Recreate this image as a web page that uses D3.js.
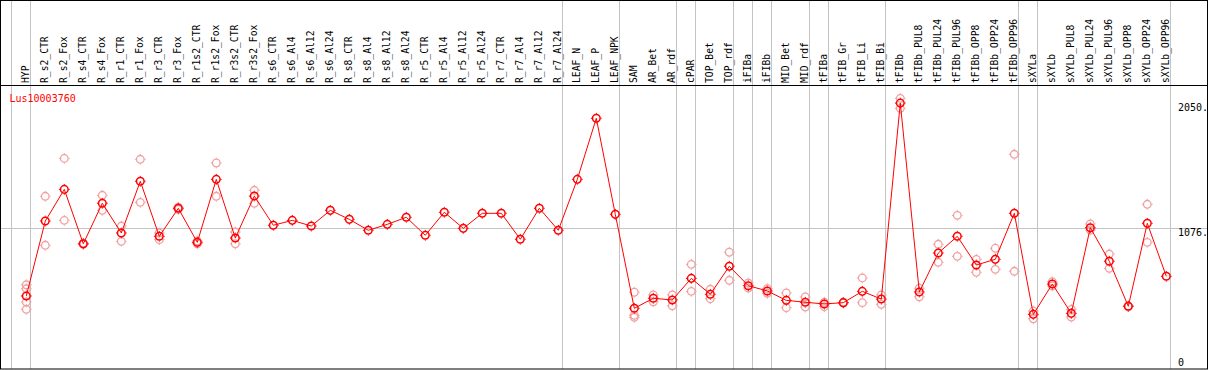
<!DOCTYPE html>
<html><head><meta charset="utf-8">
<script src="https://cdn.jsdelivr.net/npm/d3@7"></script>
<style>
html,body{margin:0;padding:0;background:#fff;}
svg{display:block;}
text{font-family:"DejaVu Sans Mono","Liberation Mono",monospace;font-size:10px;}
.cat{font-size:9.7px;}
</style></head>
<body>
<script>
const categories = ["HYP","R_s2_CTR","R_s2_Fox","R_s4_CTR","R_s4_Fox","R_r1_CTR","R_r1_Fox","R_r3_CTR","R_r3_Fox","R_r1s2_CTR","R_r1s2_Fox","R_r3s2_CTR","R_r3s2_Fox","R_s6_CTR","R_s6_Al4","R_s6_Al12","R_s6_Al24","R_s8_CTR","R_s8_Al4","R_s8_Al12","R_s8_Al24","R_r5_CTR","R_r5_Al4","R_r5_Al12","R_r5_Al24","R_r7_CTR","R_r7_Al4","R_r7_Al12","R_r7_Al24","LEAF_N","LEAF_P","LEAF_NPK","SAM","AR_Bet","AR_rdf","cPAR","TOP_Bet","TOP_rdf","iFIBa","iFIBb","MID_Bet","MID_rdf","tFIBa","tFIB_Gr","tFIB_Li","tFIB_Bi","tFIBb","tFIBb_PUL8","tFIBb_PUL24","tFIBb_PUL96","tFIBb_OPP8","tFIBb_OPP24","tFIBb_OPP96","sXYLa","sXYLb","sXYLb_PUL8","sXYLb_PUL24","sXYLb_PUL96","sXYLb_OPP8","sXYLb_OPP24","sXYLb_OPP96"];

const means = [550,1133,1379,956,1271,1040,1442,1014,1232,967,1457,1001,1327,1100,1138,1094,1216,1146,1061,1107,1162,1022,1201,1076,1193,1193,991,1232,1061,1457,1932,1185,454,532,519,687,563,781,630,589,516,501,488,498,586,526,2050,581,884,1014,791,835,1193,407,643,415,1081,820,470,1115,703];

const replicates = [
 [637,606,503,446],[1325,944],[1620,1138],[960,952],[1333,1216],[1094,975],[1613,1278],[988,1040],[1240,1224],[956,978],[1584,1325],[1047,956],[1372,1271],
 [],[],[],[],[],[],[],[],[],[],[],[],[],[],[],[],[],[],[],
 [579,400,384],[558,505],[558,474],[796,586],[602,529],[890,672],[651,612],[571,607],[573,459],[542,464],[501,467],[501,495],[690,498],[558,485],
 [2087,2009],[610,544],[952,812],[1177,858],[835,734],[921,757],[1652,742],[433,373],[661,628],[446,386],[1110,1063],[876,765],[472,468],[1263,967],[]
];

const groupEnds = [-1,0,28,31,34,35,37,38,39,41,42,45,52,53,60];
const yTicks = [0,1076,2050];
const yTickLabels = ["0","1076.","2050."];
const geneName = "Lus10003760";

const W = 1209, H = 370;
const svg = d3.select("body").append("svg").attr("width",W).attr("height",H);

const x = d3.scaleLinear().domain([0, categories.length-1]).range([26.3, 26.3 + 19*(categories.length-1)]);
const y = d3.scaleLinear().domain([0, 2050]).range([366.7, 103.1]);

const plotTop = 85, plotBottom = 369, left = 0.5, right = 1207.5;

svg.append("g").selectAll("line").data(groupEnds).join("line")
  .attr("x1", d => Math.round(x(d) + 4) + 0.5).attr("x2", d => Math.round(x(d) + 4) + 0.5)
  .attr("y1", 0).attr("y2", plotBottom)
  .attr("stroke", "#c4c4c4").attr("stroke-width", 1);

svg.append("line")
  .attr("x1", left).attr("x2", right)
  .attr("y1", Math.round(y(1076)) + 0.5).attr("y2", Math.round(y(1076)) + 0.5)
  .attr("stroke", "#c4c4c4").attr("stroke-width", 1);

svg.append("rect").attr("x", left).attr("y", 0.5).attr("width", right-left).attr("height", plotBottom-0.5)
  .attr("fill","none").attr("stroke","#000").attr("stroke-width",1);
svg.append("line").attr("x1", left).attr("x2", right).attr("y1", plotTop+0.5).attr("y2", plotTop+0.5)
  .attr("stroke","#000").attr("stroke-width",1);

svg.append("g").selectAll("text").data(categories).join("text")
  .attr("class","cat")
  .attr("transform", (d,i) => `translate(${x(i)+2.5},83) rotate(-90)`)
  .attr("text-anchor","start").attr("fill","#000")
  .text(d => d);

svg.append("g").selectAll("text").data(yTicks).join("text")
  .attr("x", 1178)
  .attr("y", d => Math.min(y(d) + 8, 366))
  .attr("fill","#000")
  .text((d,i) => yTickLabels[i]);

svg.append("text").attr("x", 9.5).attr("y", 102).attr("fill", "#ff0000").text(geneName);

function marker(g, cx, cy, color, sw) {
  g.append("circle").attr("cx", cx).attr("cy", cy).attr("r", 3.8)
    .attr("fill","none").attr("stroke", color).attr("stroke-width", sw);
  g.append("path")
    .attr("d", `M${cx-5.4},${cy}H${cx-4.3}M${cx+4.3},${cy}H${cx+5.4}M${cx},${cy-5.4}V${cy-4.3}M${cx},${cy+4.3}V${cy+5.4}`)
    .attr("stroke", color).attr("stroke-width", 1);
}

const repG = svg.append("g");
replicates.forEach((arr, i) => {
  arr.forEach(v => marker(repG, x(i), y(v), "#f0a0a0", 1.3));
});

svg.append("path").datum(means)
  .attr("d", d3.line().x((d,i) => x(i)).y(d => y(d)))
  .attr("fill","none").attr("stroke","#ff0000").attr("stroke-width",1);

const meanG = svg.append("g");
means.forEach((v, i) => marker(meanG, x(i), y(v), "#ff0000", 1.5));
</script>
</body></html>
